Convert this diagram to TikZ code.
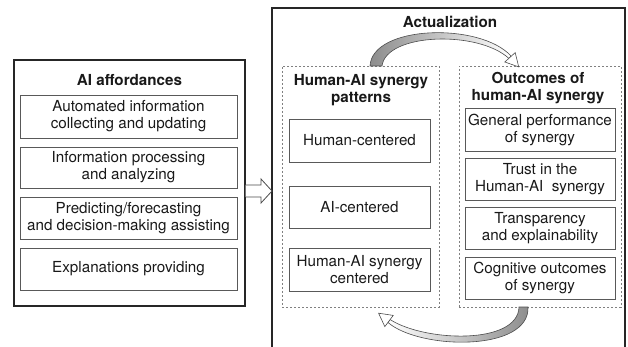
\documentclass[tikz,border=0pt]{standalone}
\usepackage{fontspec}
\setmainfont{TeX Gyre Heros}
\begin{document}
\begin{tikzpicture}[x=1pt,y=-1pt,
  every node/.style={font=\fontsize{15.2}{17}\selectfont, align=center, inner sep=0pt, text=black!90},
  obox/.style={draw=black!85, line width=1.3pt},
  ibox/.style={draw=black!65, line width=0.8pt, rectangle},
  dbox/.style={draw=black!50, line width=0.9pt, dash pattern=on 2.2pt off 1.8pt, rectangle},
  ttl/.style={font=\fontsize{15.2}{17}\selectfont\bfseries},
  band/.style={draw=black!70, line width=0.6pt},
  hd/.style={draw=black!70, fill=white, line width=0.6pt, line join=miter}]
\useasboundingbox (0,0) rectangle (628,347);

% left: AI affordances
\node[obox, minimum width=231pt, minimum height=246pt] (aff) at (129.5,183) {};
\node[ttl] (afft) at (129.5,80) {AI affordances};
\node[ibox, minimum width=217pt, minimum height=43pt] (a1) at (128.5,116.5) {Automated information\\collecting and updating};
\node[ibox, minimum width=217pt, minimum height=41pt] (a2) at (128.5,167.5) {Information processing\\and analyzing};
\node[ibox, minimum width=217pt, minimum height=42pt] (a3) at (128.5,218) {Predicting/forecasting\\and decision-making assisting};
\node[ibox, minimum width=217pt, minimum height=42pt] (a4) at (128.5,269) {Explanations providing};

% right: Actualization frame (open at the bottom)
\draw[obox] (272,352) -- (272,8) -- (625,8) -- (625,352);
\node[ttl] (act) at (450,22) {Actualization};

% hollow block arrow
\draw[hd, line width=0.8pt] (aff.east |- 0,185) -- (261,185) -- (261,179) -- (272,191) -- (261,203) -- (261,197) -- (aff.east |- 0,197);

% patterns
\node[dbox, minimum width=157pt, minimum height=241pt] (pat) at (360.5,186.5) {};
\node[ttl] (patt) at (361,90) {Human-AI synergy\\patterns};
\node[ibox, minimum width=141pt, minimum height=43pt] (p1) at (359.5,140.5) {Human-centered};
\node[ibox, minimum width=141pt, minimum height=42pt] (p2) at (359.5,207) {AI-centered};
\node[ibox, minimum width=141pt, minimum height=43pt] (p3) at (359.5,269.5) {Human-AI synergy\\centered};

% outcomes
\node[dbox, minimum width=162pt, minimum height=241pt] (out) at (540,186.5) {};
\node[ttl] (outt) at (538,88) {Outcomes of\\human-AI synergy};
\node[ibox, minimum width=150pt, minimum height=43pt] (o1) at (540,129.5) {General performance\\of synergy};
\node[ibox, minimum width=150pt, minimum height=42pt] (o2) at (540,179) {Trust in the\\Human-AI\ \ synergy};
\node[ibox, minimum width=150pt, minimum height=42pt] (o3) at (540,228) {Transparency\\and explainability};
\node[ibox, minimum width=150pt, minimum height=42pt] (o4) at (540,278) {Cognitive outcomes\\of synergy};

% top curved arrow (patterns -> outcomes)
\shade[band, left color=black!45, middle color=white, right color=white]
  (370,66) .. controls (372,25) and (480,22) .. (511,56)
  -- (509,58.5) .. controls (478,30) and (386,33) .. (382,66) -- cycle;
\draw[hd] (504.8,62) -- (518.7,66.9) -- (515.2,52.6) -- cycle;

% bottom curved arrow (outcomes -> patterns)
\shade[band, left color=white, middle color=white, right color=black!45]
  (528,307) .. controls (530,352) and (420,350) .. (388,322.5)
  -- (390,319.5) .. controls (425,342) and (518,345) .. (519,307) -- cycle;
\draw[hd] (393.2,315.4) -- (378.6,313.2) -- (384.8,326.6) -- cycle;
\end{tikzpicture}
\end{document}
